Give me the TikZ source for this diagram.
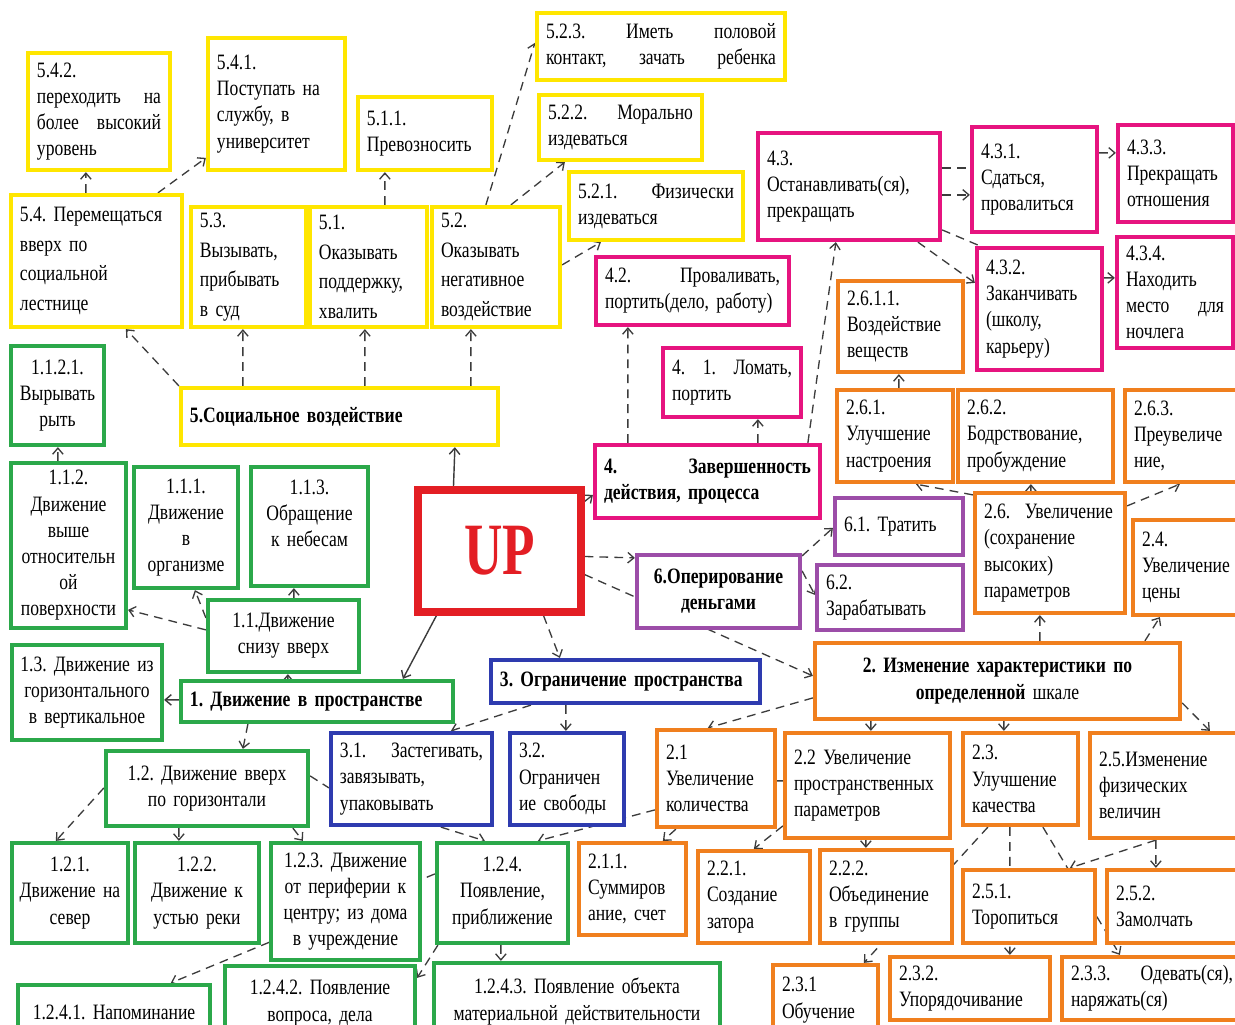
\documentclass[tikz,border=0pt]{standalone}
\usepackage{fontspec}
\setmainfont{Liberation Serif}[FakeStretch=0.8,WordSpace=0.9]
\usepackage{graphicx}
\usetikzlibrary{arrows.meta,calc}
\pgfdeclarelayer{bg}
\pgfsetlayers{bg,main}
\frenchspacing
\definecolor{cy}{HTML}{FFE600}
\definecolor{cp}{HTML}{E6147F}
\definecolor{co}{HTML}{F07F1E}
\definecolor{cg}{HTML}{2BA84A}
\definecolor{cb}{HTML}{2E3BAF}
\definecolor{cv}{HTML}{9C4DA8}
\definecolor{cr}{HTML}{E31E24}
\definecolor{ln}{HTML}{3C3C3C}
\tikzset{
 box/.style={draw, line width=2.4pt, fill=white, inner xsep=0.18cm, inner ysep=1pt,
   font=\fontsize{12.5}{14.9}\selectfont\frenchspacing, align=left, text=black},
 yel/.style={box, draw=cy},
 pnk/.style={box, draw=cp},
 org/.style={box, draw=co},
 grn/.style={box, draw=cg, align=center},
 blu/.style={box, draw=cb},
 vio/.style={box, draw=cv},
 tall/.style={font=\fontsize{12.5}{16.8}\selectfont\frenchspacing},
 narrow/.style={inner xsep=0.05cm},
 cn/.style={draw=ln, line width=0.75pt, dash pattern=on 5pt off 3.5pt},
 sol/.style={draw=ln, line width=0.8pt},
 ar/.style={-{Straight Barb[length=3.5pt,width=6pt]}},
}
\newcommand\mybox[7]{%
  \pgfmathsetmacro\bxw{(#5-#3)*0.02}%
  \pgfmathsetmacro\bxh{(#6-#4)*0.02}%
  \pgfmathsetmacro\bxt{(#5-#3)*0.02-0.36}%
  \node[#2,minimum width=\bxw cm,minimum height=\bxh cm,text width=\bxt cm] (#1) at ({(#3+#5)/2},{(#4+#6)/2}) {#7};}
\newcommand\mynbox[7]{%
  \pgfmathsetmacro\bxw{(#5-#3)*0.02}%
  \pgfmathsetmacro\bxh{(#6-#4)*0.02}%
  \pgfmathsetmacro\bxt{(#5-#3)*0.02-0.1}%
  \node[#2,narrow,minimum width=\bxw cm,minimum height=\bxh cm,text width=\bxt cm] (#1) at ({(#3+#5)/2},{(#4+#6)/2}) {#7};}
\begin{document}
\begin{tikzpicture}[x=0.02cm,y=-0.02cm]
\useasboundingbox (0,0) rectangle (1235,1025);
\begin{pgfonlayer}{bg}
\fill[white] (0,0) rectangle (1235,1025);
\end{pgfonlayer}
% yellow
\mybox{y542}{yel}{28}{53}{170}{170}{5.4.2.\\переходить\hfill на\\более\hfill высокий\\уровень}
\mybox{y541}{yel}{208}{38}{345}{170}{5.4.1.\\Поступать на\\службу, в\\университет}
\mybox{y511}{yel}{358}{97}{492}{170}{5.1.1.\\Превозносить}
\mybox{y523}{yel}{537}{13}{785}{80}{5.2.3.\hfill Иметь\hfill половой\\контакт,\hfill зачать\hfill ребенка}
\mybox{y522}{yel}{539}{95}{702}{160}{5.2.2.\hfill Морально\\издеваться}
\mybox{y521}{yel}{569}{172}{743}{240}{5.2.1.\hfill Физически\\издеваться}
\mybox{y54}{yel,tall}{11}{195}{182}{327}{5.4. Перемещаться\\вверх по\\социальной\\лестнице}
\mybox{y53}{yel,tall}{191}{207}{306}{327}{5.3.\\Вызывать,\\прибывать\\в суд}
\mybox{y51}{yel,tall}{310}{207}{427}{327}{5.1.\\Оказывать\\поддержку,\\хвалить}
\mybox{y52}{yel,tall}{432}{207}{560}{327}{5.2.\\Оказывать\\негативное\\воздействие}
\mybox{y5}{yel}{181}{388}{498}{445}{\textbf{5.Социальное воздействие}}
% pink
\mybox{p43}{pnk}{758}{133}{940}{240}{4.3.\\Останавливать(ся),\\прекращать}
\mybox{p431}{pnk}{972}{127}{1097}{232}{4.3.1.\\Сдаться,\\провалиться}
\mybox{p433}{pnk}{1118}{125}{1233}{222}{4.3.3.\\Прекращать\\отношения}
\mybox{p432}{pnk}{977}{248}{1102}{370}{4.3.2.\\Заканчивать\\(школу,\\карьеру)}
\mybox{p434}{pnk}{1117}{237}{1233}{348}{4.3.4.\\Находить\\место\hfill для\\ночлега}
\mybox{p42}{pnk}{596}{257}{789}{325}{4.2.\hfill Проваливать,\\портить(дело, работу)}
\mybox{p41}{pnk}{663}{348}{801}{417}{4.\hfill 1.\hfill Ломать,\\портить}
\mybox{p4}{pnk}{595}{445}{820}{518}{\bfseries 4.\hfill Завершенность\\действия, процесса}
% UP
\mybox{UP}{box,draw=cr,line width=4pt,align=center,text=cr}{418}{490}{581}{612}{\fontsize{42}{42}\selectfont\bfseries\scalebox{0.9}[1]{UP}}
% violet
\mybox{v6}{vio,align=center}{637}{555}{800}{628}{\bfseries 6.Оперирование\\деньгами}
\mybox{v61}{vio}{835}{498}{963}{555}{6.1. Тратить}
\mybox{v62}{vio}{817}{565}{963}{630}{6.2.\\Зарабатывать}
% orange
\mybox{o2611}{org}{838}{281}{963}{372}{2.6.1.1.\\Воздействие\\веществ}
\mybox{o261}{org}{837}{390}{953}{482}{2.6.1.\\Улучшение\\настроения}
\mybox{o262}{org}{958}{390}{1113}{482}{2.6.2.\\Бодрствование,\\пробуждение}
\mybox{o263}{org}{1125}{390}{1242}{482}{2.6.3.\\Преувеличе\\ние,}
\mybox{o26}{org}{975}{493}{1125}{613}{2.6.~ Увеличение\\(сохранение\\высоких)\\параметров}
\mybox{o24}{org}{1133}{520}{1242}{615}{2.4.\\Увеличение\\цены}
\mybox{o2}{org,align=center}{815}{643}{1180}{719}{\bfseries 2. Изменение характеристики по\\определенной {\mdseries шкале}}
\mybox{o21}{org}{657}{730}{775}{827}{2.1\\Увеличение\\количества}
\mybox{o22}{org}{785}{733}{950}{838}{2.2 Увеличение\\пространственных\\параметров}
\mybox{o23}{org}{963}{733}{1078}{825}{2.3.\\Улучшение\\качества}
\mybox{o25}{org}{1090}{733}{1242}{838}{2.5.Изменение\\физических\\величин}
\mybox{o211}{org}{579}{843}{686}{935}{2.1.1.\\Суммиров\\ание, счет}
\mybox{o221}{org}{698}{851}{810}{943}{2.2.1.\\Создание\\затора}
\mybox{o222}{org}{820}{850}{952}{943}{2.2.2.\\Объединение\\в группы}
\mybox{o251}{org}{963}{870}{1095}{943}{2.5.1.\\Торопиться}
\mybox{o252}{org}{1107}{870}{1242}{943}{2.5.2.\\Замолчать}
\mybox{o231}{org}{773}{965}{878}{1035}{2.3.1\\Обучение}
\mybox{o232}{org}{890}{957}{1050}{1020}{2.3.2.\\Упорядочивание}
\mybox{o233}{org}{1062}{957}{1242}{1020}{2.3.3.\hfill Одевать(ся),\\наряжать(ся)}
% green
\mybox{g1121}{grn}{11}{346}{104}{445}{1.1.2.1.\\Вырывать\\рыть}
\mynbox{g112}{grn}{11}{463}{126}{628}{1.1.2.\\Движение\\выше\\относительн\\ой\\поверхности}
\mybox{g111}{grn}{134}{467}{238}{588}{1.1.1.\\Движение\\в\\организме}
\mybox{g113}{grn}{251}{467}{368}{586}{1.1.3.\\Обращение\\к небесам\\~}
\mybox{g11}{grn}{208}{600}{359}{672}{1.1.Движение\\снизу вверх}
\mynbox{g13}{grn}{12}{645}{162}{740}{1.3. Движение из\\горизонтального\\в вертикальное}
\mybox{g1}{grn,align=left}{181}{681}{453}{722}{\bfseries 1. Движение в пространстве}
\mybox{g12}{grn}{106}{751}{308}{826}{1.2. Движение вверх\\по горизонтали}
\mynbox{g121}{grn}{12}{843}{128}{943}{1.2.1.\\Движение на\\север}
\mybox{g122}{grn}{135}{843}{259}{943}{1.2.2.\\Движение к\\устью реки}
\mybox{g123}{grn}{271}{843}{420}{960}{1.2.3. Движение\\от периферии к\\центру; из дома\\в учреждение}
\mybox{g124}{grn}{437}{843}{568}{943}{1.2.4.\\Появление,\\приближение}
\mybox{g1241}{grn}{18}{985}{210}{1040}{1.2.4.1. Напоминание}
\mybox{g1242}{grn}{225}{966}{415}{1040}{1.2.4.2. Появление\\вопроса, дела}
\mybox{g1243}{grn}{434}{963}{720}{1040}{1.2.4.3. Появление объекта\\материальной действительности}
% blue
\mybox{b3}{blu}{491}{660}{760}{703}{\bfseries 3. Ограничение пространства}
\mybox{b31}{blu}{331}{733}{492}{825}{3.1.\hfill Застегивать,\\завязывать,\\упаковывать}
\mybox{b32}{blu}{510}{733}{624}{825}{3.2.\\Ограничен\\ие свободы}
% connectors
\begin{pgfonlayer}{bg}
\draw[sol,ar] ($(UP.north west)+(39,0)$) -- ($(y5.south west)+(276,0)$);
\draw[cn,ar] ($(UP.north east)+(0,15)$) -- ($(p4.north west)+(0,52)$);
\draw[cn,ar] ($(UP.north east)+(0,70)$) -- ($(v6.north west)+(0,5)$);
\draw[cn,ar] ($(UP.north east)+(0,88)$) -- ($(o2.north west)+(0,35)$);
\draw[cn,ar] ($(UP.south west)+(129,0)$) -- ($(b3.north west)+(71,0)$);
\draw[sol,ar] ($(UP.south west)+(22,0)$) -- ($(g1.north west)+(224,0)$);
\draw[cn,ar] (y5.north west) -- ($(y54.south west)+(117,0)$);
\draw[cn,ar] ($(y5.north west)+(64,0)$) -- ($(y53.south west)+(54,0)$);
\draw[cn,ar] ($(y5.north west)+(186,0)$) -- ($(y51.south west)+(57,0)$);
\draw[cn,ar] ($(y5.north west)+(292,0)$) -- ($(y52.south west)+(41,0)$);
\draw[cn,ar] ($(y54.north west)+(77,0)$) -- ($(y542.south west)+(60,0)$);
\draw[cn,ar] ($(y54.north west)+(149,0)$) -- ($(y541.north west)+(0,122)$);
\draw[cn,ar] ($(y51.north west)+(77,0)$) -- ($(y511.south west)+(29,0)$);
\draw[cn,ar] ($(y52.north west)+(56,0)$) -- ($(y523.north west)+(0,32)$);
\draw[cn,ar] ($(y52.north west)+(81,0)$) -- ($(y522.south west)+(28,0)$);
\draw[cn,ar] ($(y52.north east)+(0,60)$) -- ($(y521.south west)+(34,0)$);
\draw[cn,ar] ($(p4.north west)+(35,0)$) -- ($(p42.south west)+(34,0)$);
\draw[cn,ar] ($(p4.north west)+(165,0)$) -- ($(p41.south west)+(97,0)$);
\draw[cn,ar] ($(p4.north west)+(215,0)$) -- ($(p43.south west)+(80,0)$);
\draw[cn] ($(p43.north east)+(0,37)$) -- ($(p431.north west)+(0,43)$);
\draw[cn,ar] ($(p43.north east)+(0,64)$) -- ($(p431.north west)+(0,70)$);
\draw[cn] ($(p43.north east)+(0,99)$) -- ($(p432.north west)+(5,0)$);
\draw[cn,ar] ($(p43.south west)+(162,0)$) -- ($(p432.north west)+(0,37)$);
\draw[cn,ar] ($(p431.north east)+(0,28)$) -- ($(p433.north west)+(0,30)$);
\draw[cn,ar] ($(p432.north east)+(0,32)$) -- ($(p434.north west)+(0,43)$);
\draw[cn,ar] ($(v6.north east)+(0,3)$) -- ($(v61.north west)+(0,32)$);
\draw[cn,ar] ($(v6.north east)+(0,18)$) -- ($(v62.north west)+(0,32)$);
\draw[cn,ar] ($(o2.north west)+(227,0)$) -- ($(o26.south west)+(67,0)$);
\draw[cn,ar] ($(o2.north west)+(332,0)$) -- ($(o24.south west)+(29,0)$);
\draw[cn,ar] ($(o2.north west)+(0,57)$) -- ($(o21.north west)+(53,0)$);
\draw[cn,ar] ($(o2.south west)+(58,0)$) -- ($(o22.north west)+(88,0)$);
\draw[cn,ar] ($(o2.south west)+(191,0)$) -- ($(o23.north west)+(43,0)$);
\draw[cn,ar] ($(o2.north east)+(0,62)$) -- ($(o25.north west)+(122,0)$);
\draw[cn,ar] ($(o26.north west)+(0,4)$) -- ($(o261.south west)+(81,0)$);
\draw[cn,ar] ($(o26.north west)+(58,0)$) -- ($(o262.south west)+(75,0)$);
\draw[cn,ar] ($(o26.north east)+(0,15)$) -- ($(o263.south west)+(57,0)$);
\draw[cn,ar] ($(o261.north west)+(64,0)$) -- ($(o2611.south west)+(63,0)$);
\draw[cn,ar] ($(o21.south west)+(21,0)$) -- ($(o211.north west)+(86,0)$);
\draw[cn,ar] ($(o21.north west)+(0,82)$) -- ($(g124.north west)+(103,0)$);
\draw[cn] ($(o21.north east)+(0,53)$) -- ($(o22.north west)+(0,50)$);
\draw[cn,ar] ($(o22.north west)+(0,95)$) -- ($(o221.north west)+(58,0)$);
\draw[cn,ar] ($(o22.south west)+(83,0)$) -- ($(o222.north west)+(48,0)$);
\draw[cn,ar] ($(o23.south west)+(27,0)$) -- ($(o231.north west)+(93,0)$);
\draw[cn,ar] ($(o23.south west)+(49,0)$) -- ($(o232.north west)+(122,0)$);
\draw[cn,ar] ($(o23.south west)+(82,0)$) -- ($(o233.north west)+(60,0)$);
\draw[cn,ar] ($(o25.south west)+(68,0)$) -- ($(o251.north west)+(109,0)$);
\draw[cn,ar] ($(o25.south west)+(68,0)$) -- ($(o252.north west)+(51,0)$);
\draw[cn,ar] ($(b3.south west)+(42,0)$) -- ($(b31.north west)+(122,0)$);
\draw[cn,ar] ($(b3.south west)+(77,0)$) -- ($(b32.north west)+(58,0)$);
\draw[cn,ar] ($(b31.south west)+(112,0)$) -- ($(g124.north west)+(50,0)$);
\draw[cn,ar] ($(g1.north west)+(109,0)$) -- ($(g11.south west)+(82,0)$);
\draw[sol,ar] ($(g1.north west)+(0,21)$) -- ($(g13.north east)+(0,57)$);
\draw[cn,ar] ($(g1.south west)+(69,0)$) -- ($(g12.north west)+(139,0)$);
\draw[cn,ar] ($(g11.north west)+(0,32)$) -- ($(g112.north east)+(0,149)$);
\draw[cn,ar] ($(g11.north west)+(0,20)$) -- ($(g111.south west)+(63,0)$);
\draw[cn,ar] ($(g11.north west)+(88,0)$) -- ($(g113.south west)+(45,0)$);
\draw[cn,ar] ($(g112.north west)+(49,0)$) -- ($(g1121.south west)+(49,0)$);
\draw[cn,ar] ($(g12.north west)+(0,39)$) -- ($(g121.north west)+(46,0)$);
\draw[cn,ar] ($(g12.south west)+(75,0)$) -- ($(g122.north west)+(46,0)$);
\draw[cn,ar] ($(g12.south west)+(189,0)$) -- ($(g123.north west)+(34,0)$);
\draw[cn] ($(g12.north east)+(0,27)$) -- ($(b31.north west)+(0,57)$);
\draw[cn,ar] ($(g124.north west)+(0,33)$) -- ($(g1241.north west)+(155,0)$);
\draw[cn,ar] ($(g124.south west)+(3,0)$) -- ($(g1242.north east)+(0,14)$);
\draw[cn,ar] ($(g124.south west)+(66,0)$) -- ($(g1243.north west)+(69,0)$);
\end{pgfonlayer}
\end{tikzpicture}
\end{document}
